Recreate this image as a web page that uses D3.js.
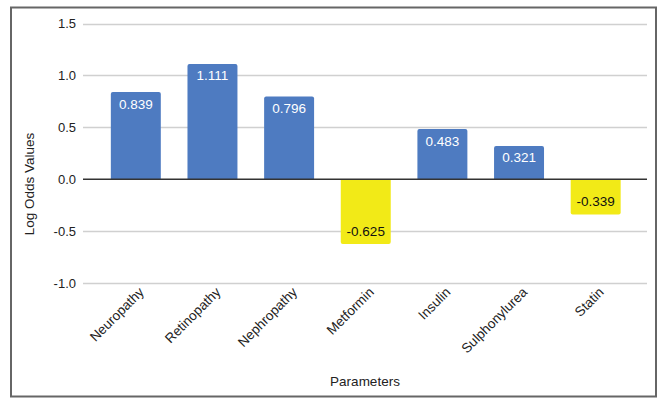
<!DOCTYPE html>
<html>
<head>
<meta charset="utf-8">
<script src="https://cdn.jsdelivr.net/npm/d3@7"></script>
<style>
  html, body { margin: 0; padding: 0; background: #fff; }
  svg { display: block; font-family: "Liberation Sans", Arial, sans-serif; }
</style>
</head>
<body>
<svg id="chart" width="659" height="398"></svg>
<script>
// Log odds per parameter
const categories = ["Neuropathy", "Retinopathy", "Nephropathy", "Metformin", "Insulin", "Sulphonylurea", "Statin"];
const values = [0.839, 1.111, 0.796, -0.625, 0.483, 0.321, -0.339];
const yTicks = [-1.0, -0.5, 0.0, 0.5, 1.0, 1.5];
const yTitle = "Log Odds Values";
const xTitle = "Parameters";

const svg = d3.select("#chart");
const hyphen = s => s.replace("\u2212", "-");

// frame
svg.append("rect")
  .attr("x", 11).attr("y", 7.5)
  .attr("width", 645).attr("height", 389)
  .attr("fill", "#fff")
  .attr("stroke", "#666").attr("stroke-width", 2);

const gridLeft = 83, gridRight = 647;
const y = d3.scaleLinear().domain([-1, 1.5]).range([283, 23.5]);
const x = d3.scaleBand().domain(categories).range([97.5, 634]).paddingInner(0.348).paddingOuter(0.174);

// gridlines
svg.append("g").selectAll("line").data(yTicks.filter(t => t !== 0)).join("line")
  .attr("x1", gridLeft).attr("x2", gridRight)
  .attr("y1", d => Math.round(y(d)) + 0.5).attr("y2", d => Math.round(y(d)) + 0.5)
  .attr("stroke", "#d0d0d0").attr("stroke-width", 1.3);

// y tick labels
svg.append("g").selectAll("text").data(yTicks).join("text")
  .attr("x", 76).attr("y", d => y(d))
  .attr("dy", "0.35em")
  .attr("text-anchor", "end")
  .attr("font-size", 13)
  .attr("fill", "#222")
  .text(d => hyphen(d3.format(".1f")(d)));

// bars with slightly rounded outer corners
const r = 2;
function barPath(d) {
  const x0 = x(d.c), x1 = x0 + x.bandwidth();
  const y0 = y(0), y1 = y(d.v);
  if (d.v >= 0) {
    return `M${x0},${y0}V${y1 + r}Q${x0},${y1} ${x0 + r},${y1}H${x1 - r}Q${x1},${y1} ${x1},${y1 + r}V${y0}Z`;
  }
  return `M${x0},${y0}V${y1 - r}Q${x0},${y1} ${x0 + r},${y1}H${x1 - r}Q${x1},${y1} ${x1},${y1 - r}V${y0}Z`;
}
const data = categories.map((c, i) => ({ c, v: values[i] }));

svg.append("g").selectAll("path").data(data).join("path")
  .attr("d", barPath)
  .attr("fill", d => d.v >= 0 ? "#4e7bc1" : "#f2ea17");

// zero line
svg.append("line")
  .attr("x1", gridLeft).attr("x2", gridRight)
  .attr("y1", y(0)).attr("y2", y(0))
  .attr("stroke", "#333").attr("stroke-width", 1.5);

// value labels
svg.append("g").selectAll("text").data(data).join("text")
  .attr("x", d => x(d.c) + x.bandwidth() / 2)
  .attr("y", d => d.v >= 0 ? y(d.v) + 16.5 : y(d.v) - 8)
  .attr("text-anchor", "middle")
  .attr("font-size", 13.5)
  .attr("fill", d => d.v >= 0 ? "#fff" : "#111")
  .text(d => hyphen(d3.format(".3f")(d.v)));

// category labels, rotated
svg.append("g").selectAll("text").data(categories).join("text")
  .attr("transform", d => `translate(${x(d) + x.bandwidth() / 2 + 9},${293}) rotate(-45)`)
  .attr("text-anchor", "end")
  .attr("font-size", 13.5)
  .attr("fill", "#222")
  .text(d => d);

// axis titles
svg.append("text")
  .attr("transform", `translate(34,${184}) rotate(-90)`)
  .attr("text-anchor", "middle")
  .attr("font-size", 13.5)
  .attr("fill", "#222")
  .text(yTitle);

svg.append("text")
  .attr("x", 365).attr("y", 386)
  .attr("text-anchor", "middle")
  .attr("font-size", 13.5)
  .attr("fill", "#222")
  .text(xTitle);
</script>
</body>
</html>
